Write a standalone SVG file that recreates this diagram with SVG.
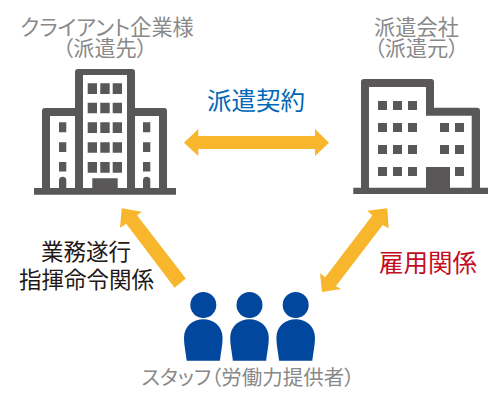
<svg xmlns="http://www.w3.org/2000/svg" width="500" height="400" viewBox="0 0 500 400">
<style>
text{font-family:"Noto Sans CJK JP","Noto Sans",sans-serif;text-anchor:middle}
.g{fill:#898989;font-size:21.2px;font-feature-settings:"palt"}
.b{fill:#595757}
.w{fill:#fff}
.a{fill:#f8b62d}
.p{fill:#00479d}
</style>
<defs>
<g id="person"><circle cx="0" cy="305" r="13"/><path d="M-19.3 338C-19.3 326-10 319.3 0 319.3C10 319.3 19.3 326 19.3 338C19.3 345 17.6 352 16.6 360.7H-16.6C-17.6 352-19.3 345-19.3 338Z"/></g>
</defs>
<g id="connectors">
<polygon class="a" points="184,142.7 198.3,129 198.3,136 315,136 315,129 329,142.7 315,156 315,149 198.3,149 198.3,156"/>
<polygon class="a" points="121.7,208.3 141.7,211.7 137.2,215.6 185.8,278.6 174.6,287.7 126.2,223.7 120,227.7"/>
<polygon class="a" points="387.3,208.3 367.3,210.7 372.3,215.6 325.2,277.3 320,273.3 322,292 341.3,289 335.8,286.2 382.7,224.9 388.7,228.3"/>
</g>
<g id="client">
<path class="b" d="M34 188H42V111Q42 108 45 108H75V72Q75 69 78 69H132Q135 69 135 72V108H164Q167 108 167 111V188H176V194.7H34Z"/>
<path class="w" d="M50 116H75V188H50ZM83 75H127V188H83ZM135 116H159V188H135Z"/>
<path class="b" d="M87.7 83.3H97V94H87.7ZM100.3 83.3H109.7V94H100.3ZM112.7 83.3H122V94H112.7ZM87.7 102.7H97V113.3H87.7ZM100.3 102.7H109.7V113.3H100.3ZM112.7 102.7H122V113.3H112.7ZM87.7 122.3H97V133H87.7ZM100.3 122.3H109.7V133H100.3ZM112.7 122.3H122V133H112.7ZM87.7 142.3H97V152.7H87.7ZM100.3 142.3H109.7V152.7H100.3ZM112.7 142.3H122V152.7H112.7ZM87.7 162H97V172.7H87.7ZM100.3 162H109.7V172.7H100.3ZM112.7 162H122V172.7H112.7Z"/>
<path class="b" d="M59 122.3H66.3V132.3H59ZM59 142.3H66.3V152H59ZM59 162H66.3V171.5H59ZM143 122.3H150.3V132.3H143ZM143 142.3H150.3V152H143ZM143 162H150.3V171.5H143Z"/>
<path class="b" d="M59 188V180.3A3.65 3.65 0 0 1 66.3 180.3V188ZM143 188V180.3A3.65 3.65 0 0 1 150.3 180.3V188ZM92.3 178.3H117.7V188H92.3Z"/>
<text class="g" x="107" y="35">クライアント企業様</text>
<text class="g" x="105" y="56">（派遣先）</text>
</g>
<g id="agency">
<path class="b" d="M353.3 187.7H361V82Q361 79 364 79H431Q434 79 434 82V107.7H477Q480 107.7 480 110.7V187.7H488V194H353.3Z"/>
<path class="w" d="M369 87H426V115.7H471.7V187.7H369Z"/>
<path class="b" d="M378 101H387V110H378ZM393 101H402V110H393ZM408 101H417V110H408ZM378 123H387V132H378ZM393 123H402V132H393ZM408 123H417V132H408ZM440 123H449V132H440ZM455 123H464V132H455ZM378 145H387V154H378ZM393 145H402V154H393ZM408 145H417V154H408ZM440 145H449V154H440ZM455 145H464V154H455ZM378 167H387V176H378ZM393 167H402V176H393ZM408 167H417V176H408ZM455 167H464V176H455ZM426 167H450V188H426Z"/>
<text class="g" x="416.5" y="35">派遣会社</text>
<text class="g" x="416.5" y="56">（派遣元）</text>
</g>
<g id="staff">
<use class="p" href="#person" x="203.3"/>
<use class="p" href="#person" x="249.5"/>
<use class="p" href="#person" x="295.7"/>
<text class="g" x="248" y="385" style="font-size:20.5px">スタッフ（労働力提供者）</text>
</g>
<g id="labels">
<text x="256" y="110" fill="#0068b7" font-size="24.5">派遣契約</text>
<text x="86" y="260" fill="#231815" font-size="22.5">業務遂行</text>
<text x="86.5" y="288" fill="#231815" font-size="22.5">指揮命令関係</text>
<text x="428" y="272" fill="#c30d23" font-size="24.5">雇用関係</text>
</g>
</svg>
